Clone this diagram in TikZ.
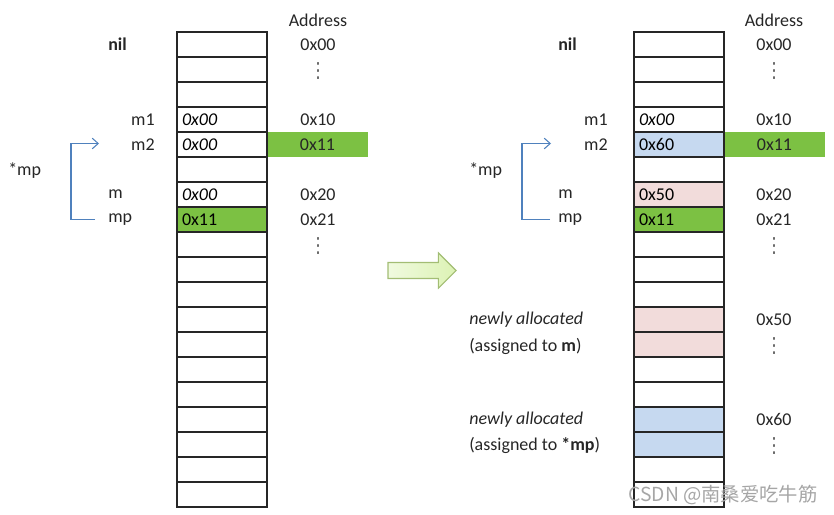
\documentclass[tikz,border=0pt]{standalone}
\usepackage{fontspec}
\setmainfont{Carlito}
\newfontfamily\cjkfont{Noto Sans CJK SC}
\newfontfamily\symfont{DejaVu Sans}
\usepackage{tikz}
\usetikzlibrary{arrows.meta,shapes.arrows}
\definecolor{mygreencolor}{HTML}{7CC143}
\definecolor{mybluecolor}{HTML}{C6D9F0}
\definecolor{mypinkcolor}{HTML}{F2DCDB}
\definecolor{myptrcolor}{HTML}{4F81BD}
\definecolor{myarrowleft}{HTML}{F0FADF}
\definecolor{myarrowright}{HTML}{DCF2B4}
\definecolor{myarrowdraw}{HTML}{A3BD74}
\tikzset{%
  cell/.style={draw=black!85, line width=1pt, rectangle, minimum width=67.5pt, minimum height=18.75pt, text width=60pt, inner xsep=3.75pt, inner ysep=0pt, align=left, font=\fontsize{13.5pt}{13.5pt}\selectfont},%
  addr/.style={inner sep=0pt, text=black!85, font=\fontsize{13.5pt}{13.5pt}\selectfont},%
  addrbox/.style={addr, fill=mygreencolor, minimum width=75.75pt, minimum height=18.75pt},%
  varname/.style={addr},%
  moredots/.style={inner sep=0pt, text=black!70, font=\symfont\fontsize{12pt}{12pt}\selectfont, yscale=1.3},%
  ptrline/.style={draw=myptrcolor, line width=0.8pt, -{Straight Barb[length=4.5pt, width=8pt]}},%
  bigarrow/.style={single arrow, draw=myarrowdraw, line width=0.8pt, left color=myarrowleft, right color=myarrowright, minimum height=51pt, inner sep=5.6pt, single arrow head extend=7.2pt}%
}

\begin{document}
\begin{tikzpicture}[x=0.75pt, y=-0.75pt]%
\useasboundingbox (0,0) rectangle (834,514);%
% left: before
\node[addrbox] (laddr4) at (317.5, 144.5) {0x11};%
\node[cell] (lcell0) at (222, 44.5) {};%
\node[cell] (lcell1) at (222, 69.5) {};%
\node[cell] (lcell2) at (222, 94.5) {};%
\node[cell] (lcell3) at (222, 119.5) {\textit{0x00}};%
\node[cell] (lcell4) at (222, 144.5) {\textit{0x00}};%
\node[cell] (lcell5) at (222, 169.5) {};%
\node[cell] (lcell6) at (222, 194.5) {\textit{0x00}};%
\node[cell, fill=mygreencolor] (lcell7) at (222, 219.5) {0x11};%
\node[cell] (lcell8) at (222, 244.5) {};%
\node[cell] (lcell9) at (222, 269.5) {};%
\node[cell] (lcell10) at (222, 294.5) {};%
\node[cell] (lcell11) at (222, 319.5) {};%
\node[cell] (lcell12) at (222, 344.5) {};%
\node[cell] (lcell13) at (222, 369.5) {};%
\node[cell] (lcell14) at (222, 394.5) {};%
\node[cell] (lcell15) at (222, 419.5) {};%
\node[cell] (lcell16) at (222, 444.5) {};%
\node[cell] (lcell17) at (222, 469.5) {};%
\node[cell] (lcell18) at (222, 494.5) {};%
\node[addr] (lhead) at (318, 20) {Address};%
\node[addr] (laddr0) at (318, 44.5) {0x00};%
\node[moredots] (ldots0) at (318, 71) {⋮};%
\node[addr] (laddr3) at (318, 119.5) {0x10};%
\node[addr] (laddr6) at (318, 194.5) {0x20};%
\node[addr] (laddr7) at (318, 219.5) {0x21};%
\node[moredots] (ldots1) at (318, 246) {⋮};%
\node[varname, anchor=west] (lnil) at (108, 44.5) {\textbf{nil}};%
\node[varname, anchor=east] (lmone) at (155, 119.5) {m1};%
\node[varname, anchor=east] (lmtwo) at (155, 144.5) {m2};%
\node[varname, anchor=west] (lm) at (108, 194.5) {m};%
\node[varname, anchor=west] (lmp) at (108, 219.5) {mp};%
\node[varname, anchor=west] (lderef) at (8, 171) {*mp};%
\coordinate (lptrstart) at (95, 219.5);%
\coordinate (lptrend) at (99, 143.5);%
\draw[ptrline] (lptrstart) -- ++(-24, 0) |- (lptrend);%
% transition
\node[bigarrow] (trans) at (418, 270.5) {};%
% right: after
\node[addrbox] (raddr4) at (774.5, 144.5) {0x11};%
\node[cell] (rcell0) at (679, 44.5) {};%
\node[cell] (rcell1) at (679, 69.5) {};%
\node[cell] (rcell2) at (679, 94.5) {};%
\node[cell] (rcell3) at (679, 119.5) {\textit{0x00}};%
\node[cell, fill=mybluecolor] (rcell4) at (679, 144.5) {0x60};%
\node[cell] (rcell5) at (679, 169.5) {};%
\node[cell, fill=mypinkcolor] (rcell6) at (679, 194.5) {0x50};%
\node[cell, fill=mygreencolor] (rcell7) at (679, 219.5) {0x11};%
\node[cell] (rcell8) at (679, 244.5) {};%
\node[cell] (rcell9) at (679, 269.5) {};%
\node[cell] (rcell10) at (679, 294.5) {};%
\node[cell, fill=mypinkcolor] (rcell11) at (679, 319.5) {};%
\node[cell, fill=mypinkcolor] (rcell12) at (679, 344.5) {};%
\node[cell] (rcell13) at (679, 369.5) {};%
\node[cell] (rcell14) at (679, 394.5) {};%
\node[cell, fill=mybluecolor] (rcell15) at (679, 419.5) {};%
\node[cell, fill=mybluecolor] (rcell16) at (679, 444.5) {};%
\node[cell] (rcell17) at (679, 469.5) {};%
\node[cell] (rcell18) at (679, 494.5) {};%
\node[addr] (rhead) at (774, 20) {Address};%
\node[addr] (raddr0) at (774, 44.5) {0x00};%
\node[moredots] (rdots0) at (774, 71) {⋮};%
\node[addr] (raddr3) at (774, 119.5) {0x10};%
\node[addr] (raddr6) at (774, 194.5) {0x20};%
\node[addr] (raddr7) at (774, 219.5) {0x21};%
\node[moredots] (rdots1) at (774, 246) {⋮};%
\node[addr] (raddr11) at (774, 319.5) {0x50};%
\node[moredots] (rdots2) at (774, 346) {⋮};%
\node[addr] (raddr15) at (774, 419.5) {0x60};%
\node[moredots] (rdots3) at (774, 446) {⋮};%
\node[varname, anchor=west] (rnil) at (558, 44.5) {\textbf{nil}};%
\node[varname, anchor=east] (rmone) at (608, 119.5) {m1};%
\node[varname, anchor=east] (rmtwo) at (608, 144.5) {m2};%
\node[varname, anchor=west] (rm) at (558, 194.5) {m};%
\node[varname, anchor=west] (rmp) at (558, 219.5) {mp};%
\node[varname, anchor=west] (rderef) at (469, 171) {*mp};%
\coordinate (rptrstart) at (550, 219.5);%
\coordinate (rptrend) at (551, 143.5);%
\draw[ptrline] (rptrstart) -- ++(-28, 0) |- (rptrend);%
\node[varname, anchor=west] (rnewm) at (469, 320) {\textit{newly allocated}};%
\node[varname, anchor=west] (rassm) at (469, 346) {(assigned to \textbf{m})};%
\node[varname, anchor=west] (rnewmp) at (469, 420) {\textit{newly allocated}};%
\node[varname, anchor=west] (rassmp) at (469, 445.5) {(assigned to \textbf{*mp})};%
\node[inner sep=0pt, text=black!35, font=\cjkfont\fontsize{14.5pt}{14.5pt}\selectfont] (mark) at (723, 495) {CSDN @南桑爱吃牛筋};%
\end{tikzpicture}
\end{document}
